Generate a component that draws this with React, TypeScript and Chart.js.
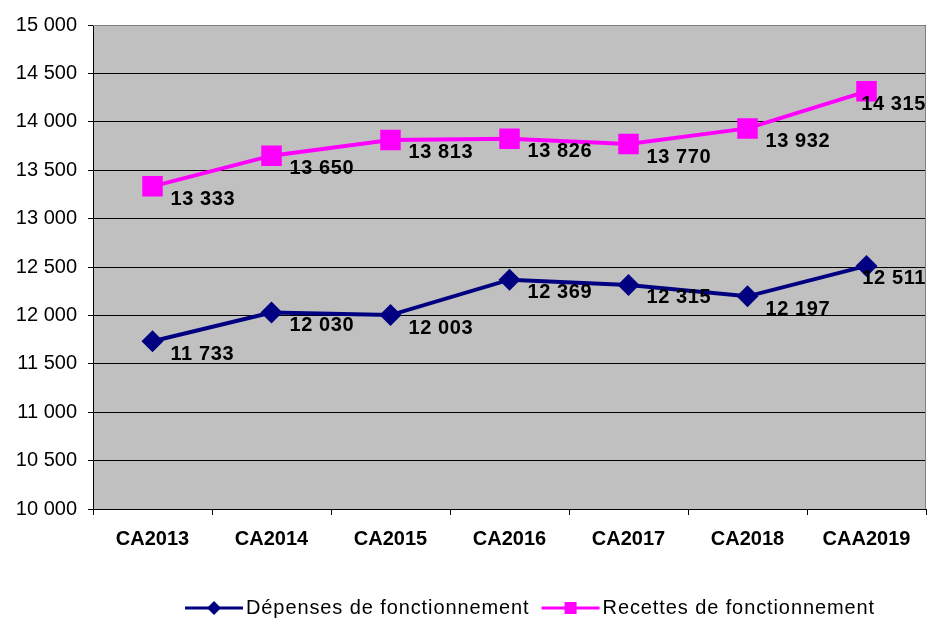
import React, { useEffect, useRef } from 'react';
import { Chart, registerables } from 'chart.js';

Chart.register(...registerables);

const categories = ['CA2013', 'CA2014', 'CA2015', 'CA2016', 'CA2017', 'CA2018', 'CAA2019'];
const depenses = [11733, 12030, 12003, 12369, 12315, 12197, 12511];
const recettes = [13333, 13650, 13813, 13826, 13770, 13932, 14315];
const seriesNames = ['Dépenses de fonctionnement', 'Recettes de fonctionnement'];
const yMin = 10000;
const yMax = 15000;
const yStep = 500;

const FONT = '"Liberation Sans", Arial, Helvetica, sans-serif';
const NAVY = '#000080';
const MAGENTA = '#FF00FF';

const fmt = (v: number) => String(Math.round(v)).replace(/\B(?=(\d{3})+(?!\d))/g, ' ');

const plotBg = {
  id: 'plotBg',
  beforeDraw(chart: any) {
    const { ctx, chartArea: a } = chart;
    ctx.save();
    ctx.fillStyle = '#C0C0C0';
    ctx.fillRect(a.left, a.top, a.right - a.left, a.bottom - a.top);
    ctx.restore();
  },
  beforeDatasetsDraw(chart: any) {
    const { ctx, chartArea: a } = chart;
    ctx.save();
    ctx.strokeStyle = '#808080';
    ctx.lineWidth = 1;
    ctx.beginPath();
    ctx.moveTo(a.left, a.top + 0.5);
    ctx.lineTo(a.right - 0.5, a.top + 0.5);
    ctx.lineTo(a.right - 0.5, a.bottom);
    ctx.stroke();
    ctx.restore();
  },
};

const dataLabels = {
  id: 'dataLabels',
  afterDatasetsDraw(chart: any) {
    const { ctx } = chart;
    ctx.save();
    ctx.font = `bold 20px ${FONT}`;
    (ctx as any).letterSpacing = '0.6px';
    ctx.fillStyle = '#000';
    ctx.textAlign = 'left';
    ctx.textBaseline = 'middle';
    chart.data.datasets.forEach((ds: any, i: number) => {
      const meta = chart.getDatasetMeta(i);
      meta.data.forEach((pt: any, j: number) => {
        const txt = fmt(ds.data[j]);
        const w = ctx.measureText(txt).width;
        let x = pt.x + 18;
        if (x + w > chart.width - 2) x = chart.width - 2 - w;
        ctx.fillText(txt, x, pt.y + 13);
      });
    });
    ctx.restore();
  },
};

const drawMarker = (ctx: CanvasRenderingContext2D, style: string, x: number, y: number, r: number, color: string) => {
  ctx.fillStyle = color;
  ctx.beginPath();
  if (style === 'rectRot') {
    ctx.moveTo(x, y - r);
    ctx.lineTo(x + r, y);
    ctx.lineTo(x, y + r);
    ctx.lineTo(x - r, y);
    ctx.closePath();
  } else {
    ctx.rect(x - r, y - r, 2 * r, 2 * r);
  }
  ctx.fill();
};

const customLegend = {
  id: 'customLegend',
  afterDraw(chart: any) {
    const { ctx } = chart;
    ctx.save();
    ctx.font = `20px ${FONT}`;
    (ctx as any).letterSpacing = '0.9px';
    ctx.textBaseline = 'middle';
    ctx.textAlign = 'left';
    const y = 608;
    let x = 185;
    chart.data.datasets.forEach((ds: any) => {
      const color = ds.borderColor;
      ctx.strokeStyle = color;
      ctx.lineWidth = 3;
      ctx.beginPath();
      ctx.moveTo(x, y);
      ctx.lineTo(x + 58, y);
      ctx.stroke();
      drawMarker(ctx, ds.pointStyle, x + 29, y, ds.pointStyle === 'rectRot' ? 7 : 6, color);
      ctx.fillStyle = '#000';
      const label = ds.label;
      ctx.fillText(label, x + 61, y);
      x += 61 + ctx.measureText(label).width + 12;
    });
    ctx.restore();
  },
};

export default function App() {
  const ref = useRef<HTMLCanvasElement | null>(null);

  useEffect(() => {
    if (!ref.current) return;
    const chart = new Chart(ref.current, {
      type: 'line',
      data: {
        labels: categories,
        datasets: [
          {
            label: seriesNames[0],
            data: depenses,
            borderColor: NAVY,
            backgroundColor: NAVY,
            borderWidth: 4,
            pointStyle: 'rectRot',
            pointRadius: 11,
            pointHoverRadius: 11,
            pointBackgroundColor: NAVY,
            pointBorderColor: NAVY,
            pointBorderWidth: 0,
            tension: 0,
          },
          {
            label: seriesNames[1],
            data: recettes,
            borderColor: MAGENTA,
            backgroundColor: MAGENTA,
            borderWidth: 4,
            pointStyle: 'rect',
            pointRadius: 14.5,
            pointHoverRadius: 14.5,
            pointBackgroundColor: MAGENTA,
            pointBorderColor: MAGENTA,
            pointBorderWidth: 0,
            tension: 0,
          },
        ],
      },
      options: {
        animation: false,
        responsive: true,
        maintainAspectRatio: false,
        layout: { autoPadding: false, padding: { top: 25, right: 2, bottom: 60, left: 0 } },
        plugins: {
          legend: { display: false },
          tooltip: { enabled: false },
        },
        scales: {
          x: {
            offset: true,
            grid: {
              offset: true,
              drawOnChartArea: false,
              drawTicks: true,
              tickLength: 6,
              color: '#000',
            },
            border: { color: '#000', width: 1 },
            ticks: {
              color: '#000',
              font: { family: FONT, size: 20, weight: 'bold' },
              padding: 12,
              maxRotation: 0,
              autoSkip: false,
            },
            afterFit(scale: any) {
              scale.height = 50;
              scale.paddingLeft = 0;
              scale.paddingRight = 0;
            },
          },
          y: {
            min: yMin,
            max: yMax,
            grid: {
              color: '#000',
              lineWidth: 1,
              drawTicks: true,
              tickLength: 5,
            },
            border: { color: '#000', width: 1 },
            ticks: {
              stepSize: yStep,
              color: '#000',
              font: { family: FONT, size: 20 },
              padding: 11,
              callback: (v: any) => fmt(Number(v)),
            },
            afterFit(scale: any) {
              scale.width = 93;
            },
          },
        },
      },
      plugins: [plotBg, dataLabels, customLegend],
    });
    return () => chart.destroy();
  }, []);

  return (
    <div style={{ position: 'fixed', left: 0, top: 0, width: 928, height: 619, background: '#fff' }}>
      <canvas ref={ref} />
    </div>
  );
}
